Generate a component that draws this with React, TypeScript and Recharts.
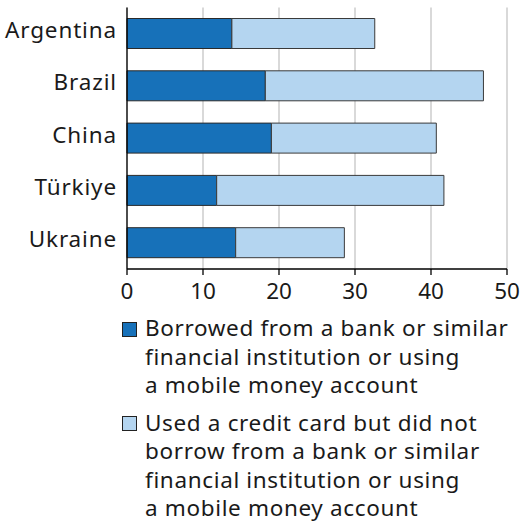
import React from "react";
import { BarChart, Bar, XAxis, YAxis, CartesianGrid, Legend } from "recharts";

const countries = ["Argentina", "Brazil", "China", "Türkiye", "Ukraine"];
const borrowedFormal = [13.8, 18.2, 19.0, 11.8, 14.3];
const creditCardOnly = [18.8, 28.7, 21.7, 29.9, 14.3];
const xTicks = [0, 10, 20, 30, 40, 50];

const seriesNames = [
  "Borrowed from a bank or similar financial institution or using a mobile money account",
  "Used a credit card but did not borrow from a bank or similar financial institution or using a mobile money account",
];
const legendLines = [
  ["Borrowed from a bank or similar", "financial institution or using", "a mobile money account"],
  ["Used a credit card but did not", "borrow from a bank or similar", "financial institution or using", "a mobile money account"],
];

const DARK = "#1771b9";
const LIGHT = "#b4d5f0";
const FONT = "'Noto Sans', 'Open Sans', sans-serif";
const TEXT = "#1a1a1a";
const FS = 22.5;

const data = countries.map((c, i) => ({
  country: c,
  formal: borrowedFormal[i],
  card: creditCardOnly[i],
}));

const YTick = (props: any) => {
  const { x, y, payload } = props;
  return (
    <text x={x} y={y - 3.5} dy="0.355em" textAnchor="end" fontFamily={FONT} fontSize={FS} letterSpacing={0.85} fill={TEXT}>
      {payload.value}
    </text>
  );
};

const LegendContent = () => {
  const colors = [DARK, LIGHT];
  return (
    <div style={{ position: "relative", width: 520, fontFamily: FONT, fontSize: FS, letterSpacing: 0.65, lineHeight: "28.6px", color: TEXT }}>
      {legendLines.map((lines, i) => (
        <div key={i} style={{ position: "relative", paddingLeft: 145, marginBottom: 8.5 }}>
          <span
            style={{
              position: "absolute",
              left: 122,
              top: 7.45,
              width: 13,
              height: 13,
              background: colors[i],
              border: "1px solid #222",
            }}
          />
          {lines.map((l, j) => (
            <div key={j} style={{ whiteSpace: "nowrap" }}>{l}</div>
          ))}
        </div>
      ))}
    </div>
  );
};

export default function App() {
  return (
    <div style={{ position: "absolute", left: 0, top: 0, width: 520, height: 526, background: "#fff" }}>
      <BarChart
        width={520}
        height={526}
        data={data}
        layout="vertical"
        margin={{ top: 7.5, right: 13, left: 0, bottom: 227 }}
        barSize={30}
      >
        <CartesianGrid horizontal={false} stroke="#cccccc" strokeWidth={1.5} />
        <XAxis
          type="number"
          domain={[0, 50]}
          ticks={xTicks}
          height={30}
          axisLine={{ stroke: "#000", strokeWidth: 1.3 }}
          tickLine={{ stroke: "#000", strokeWidth: 1.3 }}
          tickSize={6}
          tickMargin={8}
          tick={{ fontFamily: FONT, fontSize: FS, fill: TEXT }}
        />
        <YAxis
          type="category"
          dataKey="country"
          width={127}
          axisLine={{ stroke: "#000", strokeWidth: 1.3 }}
          tickLine={false}
          tickSize={0}
          tickMargin={10}
          tick={<YTick />}
        />
        <Legend
          layout="vertical"
          align="center"
          verticalAlign="middle"
          wrapperStyle={{ left: 0, top: 314.25, width: 520 }}
          content={<LegendContent />}
        />
        <Bar dataKey="formal" name={seriesNames[0]} stackId="a" fill={DARK} stroke="#2a2a2a" strokeWidth={1} isAnimationActive={false} />
        <Bar dataKey="card" name={seriesNames[1]} stackId="a" fill={LIGHT} stroke="#3a3a3a" strokeWidth={1} isAnimationActive={false} />
      </BarChart>
    </div>
  );
}
